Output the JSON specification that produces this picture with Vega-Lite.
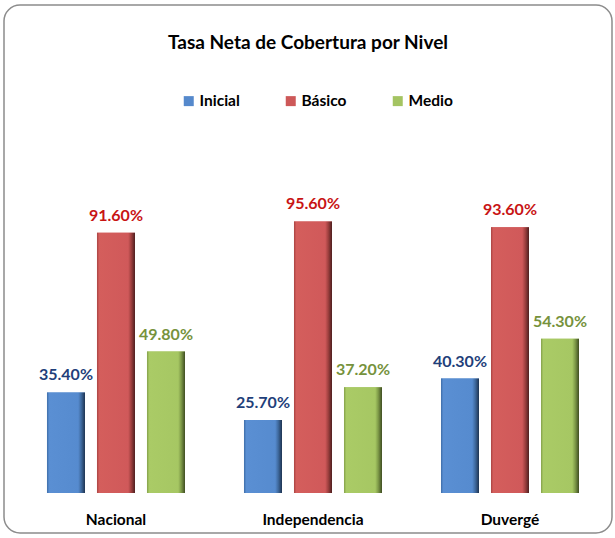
{
  "$schema": "https://vega.github.io/schema/vega-lite/v6.json",
  "width": 608,
  "height": 528,
  "autosize": {"type": "none"},
  "padding": {"left": 4, "top": 5, "right": 3, "bottom": 5},
  "background": "white",
  "title": {
    "text": "Tasa Neta de Cobertura por Nivel",
    "anchor": "middle",
    "frame": "group",
    "orient": "top",
    "baseline": "alphabetic",
    "offset": 0,
    "dy": 63,
    "font": "Lato",
    "fontSize": 19,
    "fontWeight": "bold",
    "color": "#000000"
  },
  "config": {
    "view": {"stroke": "#8C8C8C", "strokeWidth": 1.5, "cornerRadius": 16, "fill": "white"},
    "font": "Lato"
  },
  "data": {
    "values": [
      {"Region": "Nacional", "Nivel": "Inicial", "Tasa": 0.354},
      {"Region": "Nacional", "Nivel": "Básico", "Tasa": 0.916},
      {"Region": "Nacional", "Nivel": "Medio", "Tasa": 0.498},
      {"Region": "Independencia", "Nivel": "Inicial", "Tasa": 0.257},
      {"Region": "Independencia", "Nivel": "Básico", "Tasa": 0.956},
      {"Region": "Independencia", "Nivel": "Medio", "Tasa": 0.372},
      {"Region": "Duvergé", "Nivel": "Inicial", "Tasa": 0.403},
      {"Region": "Duvergé", "Nivel": "Básico", "Tasa": 0.936},
      {"Region": "Duvergé", "Nivel": "Medio", "Tasa": 0.543}
    ]
  },
  "encoding": {
    "x": {
      "field": "Region",
      "type": "nominal",
      "sort": ["Nacional", "Independencia", "Duvergé"],
      "scale": {"paddingInner": 0, "paddingOuter": 0.0431, "align": 0.794},
      "axis": {
        "title": null,
        "orient": "bottom",
        "offset": -40,
        "domain": false,
        "ticks": false,
        "tickSize": 0,
        "grid": false,
        "labelAngle": 0,
        "labelBaseline": "alphabetic",
        "labelPadding": 31,
        "labelFont": "Lato",
        "labelFontSize": 15.5,
        "labelFontWeight": "bold",
        "labelColor": "#000000"
      }
    },
    "xOffset": {
      "field": "Nivel",
      "type": "nominal",
      "sort": ["Inicial", "Básico", "Medio"],
      "scale": {"paddingInner": 0.24, "paddingOuter": 0.59}
    },
    "y": {
      "field": "Tasa",
      "type": "quantitative",
      "scale": {"domain": [-0.1408, 1.7183], "nice": false, "zero": false},
      "axis": null
    }
  },
  "layer": [
    {
      "data": {"values": [{}]},
      "mark": {"type": "rule", "color": "#A0A0A0", "strokeWidth": 1},
      "encoding": {
        "x": {"datum": "Nacional", "type": "nominal", "bandPosition": 0},
        "x2": {"datum": "Duvergé", "bandPosition": 1},
        "y": {"datum": 0, "type": "quantitative"},
        "xOffset": null
      }
    },
    {
      "mark": {"type": "bar"},
      "encoding": {
        "y2": {"datum": 0},
        "color": {
          "field": "Nivel",
          "type": "nominal",
          "sort": ["Inicial", "Básico", "Medio"],
          "scale": {"domain": ["Inicial", "Básico", "Medio"], "range": ["#5589CC", "#CD5858", "#A4C462"]},
          "legend": {
            "title": null,
            "orient": "none",
            "direction": "horizontal",
            "columns": 3,
            "legendX": 177,
            "legendY": 88,
            "padding": 0,
            "symbolType": "square",
            "symbolSize": 100,
            "symbolStrokeWidth": 0,
            "labelOffset": 3,
            "columnPadding": 43,
            "labelFont": "Lato",
            "labelFontSize": 15.5,
            "labelFontWeight": "bold",
            "labelColor": "#000000"
          }
        }
      }
    },
    {
      "mark": {"type": "bar"},
      "encoding": {
        "y2": {"datum": 0},
        "fill": {
          "condition": [
            {"test": "datum.Nivel === 'Inicial'", "value": {"gradient": "linear", "x1": 0, "x2": 1, "y1": 0, "y2": 0, "stops": [{"offset": 0, "color": "#3E6DA8"}, {"offset": 0.06, "color": "#5A8FD3"}, {"offset": 0.82, "color": "#568BCF"}, {"offset": 0.9, "color": "#3F6A9F"}, {"offset": 1, "color": "#1E3350"}]}},
            {"test": "datum.Nivel === 'Básico'", "value": {"gradient": "linear", "x1": 0, "x2": 1, "y1": 0, "y2": 0, "stops": [{"offset": 0, "color": "#A94442"}, {"offset": 0.06, "color": "#D45E5C"}, {"offset": 0.82, "color": "#D0595A"}, {"offset": 0.9, "color": "#9F403F"}, {"offset": 1, "color": "#4E1F1F"}]}}
          ],
          "value": {"gradient": "linear", "x1": 0, "x2": 1, "y1": 0, "y2": 0, "stops": [{"offset": 0, "color": "#84A04A"}, {"offset": 0.06, "color": "#AACB66"}, {"offset": 0.82, "color": "#A6C763"}, {"offset": 0.9, "color": "#7E9A48"}, {"offset": 1, "color": "#3F4D22"}]}
        }
      }
    },
    {
      "mark": {"type": "text", "baseline": "alphabetic", "dy": -12, "fontSize": 16, "fontWeight": "bold", "font": "Lato"},
      "encoding": {
        "text": {"field": "Tasa", "type": "quantitative", "format": ".2%"},
        "color": {
          "condition": [
            {"test": "datum.Nivel === 'Inicial'", "value": "#1F3F7A"},
            {"test": "datum.Nivel === 'Básico'", "value": "#C81414"}
          ],
          "value": "#76923C"
        }
      }
    }
  ]
}
